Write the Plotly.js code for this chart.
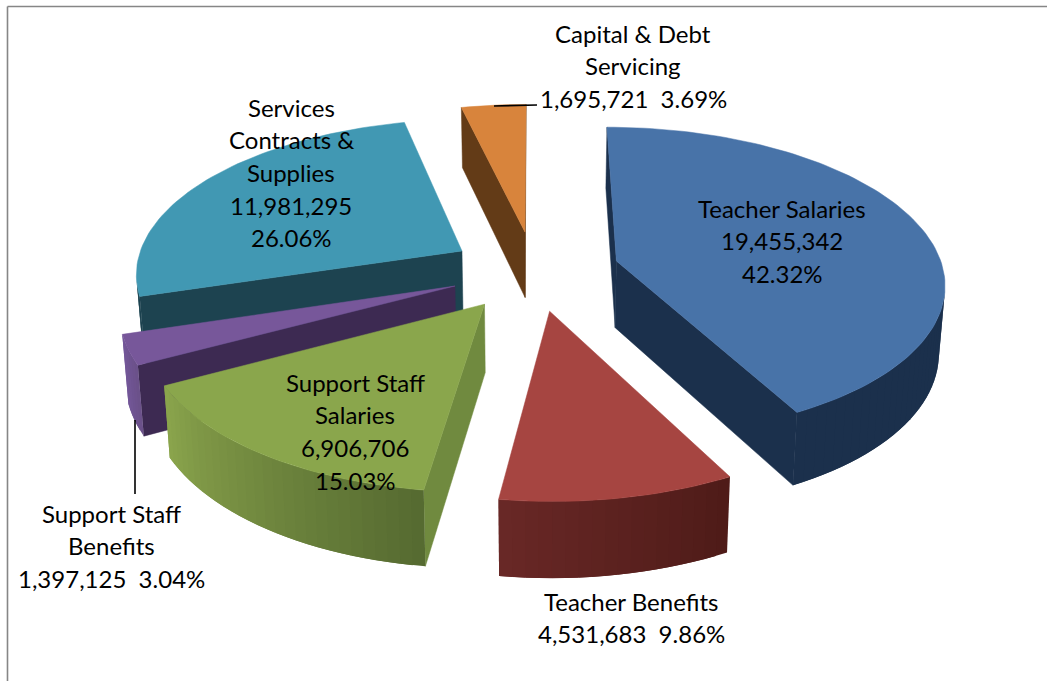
<!DOCTYPE html>
<html>
<head>
<meta charset="utf-8">
<script src="https://cdn.plot.ly/plotly-3.0.1.min.js"></script>
<style>html,body{margin:0;padding:0;background:#fff}#chart{width:1049px;height:681px}</style>
</head>
<body>
<div id="chart"></div>
<script>
// School budget by expense category, drawn as an exploded 3-D pie.
const categories = ['Teacher Salaries', 'Teacher Benefits', 'Support Staff Salaries',
  'Support Staff Benefits', 'Services Contracts & Supplies', 'Capital & Debt Servicing'];
const amounts = [19455342, 4531683, 6906706, 1397125, 11981295, 1695721];
const topColors = ['#4873a8', '#a64541', '#8aa64c', '#77579a', '#4198b3', '#d8843c'];
const edgeColors = ['#1b304c', '#5a201f', '#708a3f', '#3d2a52', '#1d4350', '#633b17'];
const rimStart = ['#1b304c', '#4e1b18', '#556a30', '#6a5089', '#1d4350', '#633b17'];
const rimEnd = ['#1b304c', '#692826', '#8ba54c', '#74589a', '#1d4350', '#633b17'];

// Label text, one list of lines per category
const fmt = v => v.toLocaleString('en-US');
const total = amounts.reduce((a, b) => a + b, 0);
const pct = v => (100 * v / total).toFixed(2) + '%';
const labelLines = [
  ['Teacher Salaries', fmt(amounts[0]), pct(amounts[0])],
  ['Teacher Benefits', fmt(amounts[1]) + '\u00a0\u00a0' + pct(amounts[1])],
  ['Support Staff', 'Salaries', fmt(amounts[2]), pct(amounts[2])],
  ['Support Staff', 'Benefits', fmt(amounts[3]) + '\u00a0\u00a0' + pct(amounts[3])],
  ['Services', 'Contracts &', 'Supplies', fmt(amounts[4]), pct(amounts[4])],
  ['Capital & Debt', 'Servicing', fmt(amounts[5]) + '\u00a0\u00a0' + pct(amounts[5])]
];
const labelX = [782, 631, 355, 111, 291, 633];
const labelY = [208, 601, 382, 513, 107, 33];
const lineGap = 32.7;

// Camera and pie geometry
const cx = 534.5, cy = 270.5, persp = 0.0004, tilt = 0.47, radius = 327, explode = 85, depth = 67, floorScale = 0.985;
const rad = d => d * Math.PI / 180;

function project(X, Y, level) {
  const s = 1 / (1 + persp * Y);
  const t = level ? floorScale : 1;
  return [cx + X * s * t, cy - tilt * Y * s * t + level * depth * s];
}

function hex(c) { return [1, 3, 5].map(i => parseInt(c.substr(i, 2), 16)); }
function mix(a, b, f) {
  const A = hex(a), B = hex(b);
  return 'rgb(' + A.map((v, i) => Math.round(v + (B[i] - v) * f)).join(',') + ')';
}
function area(p) {
  let s = 0;
  p.forEach((q, i) => { const r = p[(i + 1) % p.length]; s += q[0] * r[1] - r[0] * q[1]; });
  return s / 2;
}
function poly(p, color, edge) {
  return {
    type: 'scatter', mode: 'lines', fill: 'toself', fillcolor: color,
    x: p.map(q => q[0]).concat(p[0][0]), y: p.map(q => q[1]).concat(p[0][1]),
    line: {color: color, width: edge}, hoverinfo: 'skip', showlegend: false
  };
}

// Slices are painted back to front
const paintOrder = [4, 5, 3, 2, 0, 1];
const sweep = [];
let running = 0;
amounts.forEach(v => { sweep.push([running, running + 360 * v / total]); running += 360 * v / total; });

const traces = [];
paintOrder.forEach(i => {
  const [a0, a1] = sweep[i];
  const mid = rad((a0 + a1) / 2);
  const ox = explode * Math.sin(mid), oy = explode * Math.cos(mid);
  const rim = (a, lvl) => project(ox + radius * Math.sin(rad(a)), oy + radius * Math.cos(rad(a)), lvl);
  const apex = lvl => project(ox, oy, lvl);

  // radial walls
  const wallA = [apex(0), rim(a0, 0), rim(a0, 1), apex(1)];
  const wallB = [apex(0), rim(a1, 0), rim(a1, 1), apex(1)];
  if (area(wallA) < 0) traces.push(poly(wallA, edgeColors[i], 0.5));
  if (area(wallB) > 0) traces.push(poly(wallB, edgeColors[i], 0.5));

  // outer wall: overlapping strips carry the shading without seams
  const step = 2;
  const n = Math.max(2, Math.ceil((a1 - a0) / step));
  const d = (a1 - a0) / n;
  for (let k = 0; k < n; k++) {
    const t0 = a0 + d * k, t1 = a0 + d * (k + 1);
    const facing = [rim(t0, 0), rim(t1, 0), rim(t1, 1), rim(t0, 1)];
    if (area(facing) >= 0) continue;
    const far = Math.min(a1, t1 + d);
    const pts = [];
    for (let u = 0; u <= 4; u++) pts.push(rim(t0 + (far - t0) * u / 4, 0));
    for (let u = 4; u >= 0; u--) pts.push(rim(t0 + (far - t0) * u / 4, 1));
    traces.push(poly(pts, mix(rimStart[i], rimEnd[i], (k + 0.5) / n), 0));
  }

  // top face
  const face = [apex(0)];
  const m = Math.ceil((a1 - a0) / 1.5);
  for (let k = 0; k <= m; k++) face.push(rim(a0 + (a1 - a0) * k / m, 0));
  const t = poly(face, topColors[i], 0.5);
  t.name = categories[i];
  traces.push(t);
});

// Leader lines from the outside labels to their slices
const leaders = [
  {x: [494, 537], y: [106, 105]},
  {x: [135, 135], y: [420, 494]}
];
leaders.forEach(l => traces.push({
  type: 'scatter', mode: 'lines', x: l.x, y: l.y,
  line: {color: '#000', width: 1.6}, hoverinfo: 'skip', showlegend: false
}));

const annotations = [];
labelLines.forEach((lines, i) => lines.forEach((text, j) => annotations.push({
  x: labelX[i], y: labelY[i] + j * lineGap, xref: 'x', yref: 'y',
  text: text, showarrow: false, xanchor: 'center', yanchor: 'middle',
  font: {family: 'Lato, sans-serif', size: 24, color: '#000'}
})));

const layout = {
  width: 1049, height: 681,
  margin: {l: 0, r: 0, t: 0, b: 0},
  paper_bgcolor: '#fff', plot_bgcolor: '#fff', showlegend: false,
  xaxis: {range: [0, 1049], visible: false, fixedrange: true},
  yaxis: {range: [681, 0], visible: false, fixedrange: true},
  annotations: annotations,
  shapes: [
    {type: 'line', xref: 'x', yref: 'y', x0: 7.5, y0: 6.5, x1: 1047, y1: 6.5, line: {color: '#868686', width: 1.6}},
    {type: 'line', xref: 'x', yref: 'y', x0: 7.5, y0: 6.5, x1: 7.5, y1: 681, line: {color: '#868686', width: 1.6}}
  ]
};
Plotly.newPlot('chart', traces, layout, {displayModeBar: false, staticPlot: true});
</script>
</body>
</html>
